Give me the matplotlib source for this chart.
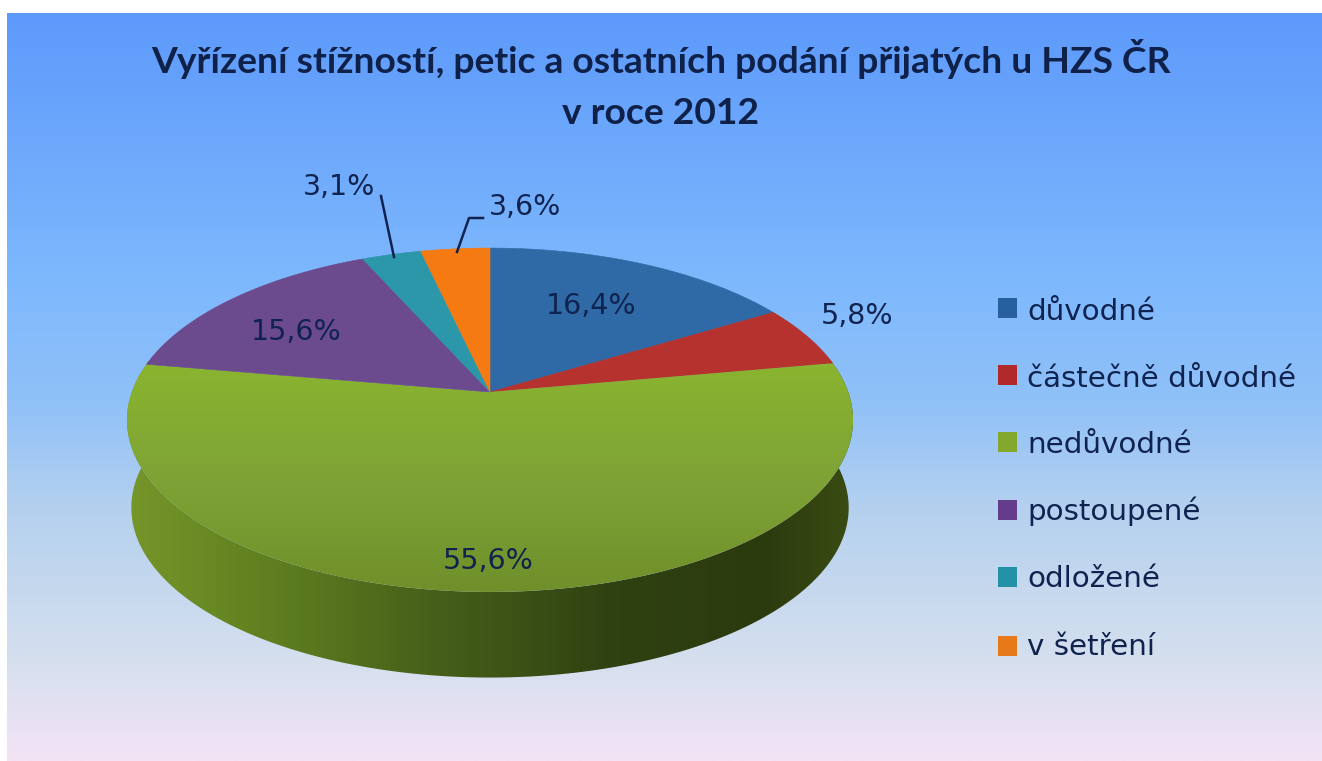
import matplotlib
matplotlib.use('Agg')
import matplotlib.pyplot as plt
import numpy as np
from matplotlib.colors import LinearSegmentedColormap
from matplotlib.patches import Polygon, Rectangle

title_lines = ['Vyřízení stížností, petic a ostatních podání přijatých u HZS ČR', 'v roce 2012']
categories = ['důvodné', 'částečně důvodné', 'nedůvodné', 'postoupené', 'odložené', 'v šetření']
values = [16.4, 5.8, 55.6, 15.6, 3.1, 3.6]
value_labels = ['16,4%', '5,8%', '55,6%', '15,6%', '3,1%', '3,6%']
colors = ['#2f6aa6', '#b5322e', '#85ab33', '#6c4a8e', '#2b97a9', '#f57a12']
legend_colors = ['#27609c', '#b02a2c', '#84a82e', '#633c8c', '#2490a6', '#e8791a']

W, H = 1322, 761
CX, CY = 490, 392      # where the pie centre lands in the picture
K = 0.1628             # perspective of the tilted disc
AX = 358.2
AY = 167.4
TEXT = '#10234f'


def rim(theta, scale=1.0, dy=0.0):
    # theta clockwise from the top of the pie, in radians
    u = np.sin(theta)
    v = -np.cos(theta)
    d = 1 - K * v
    return CX + scale * AX * u / d, CY + dy + scale * AY * v / d


def grad(ax, clip, stops, extent, horizontal=False, z=1):
    cmap = LinearSegmentedColormap.from_list('g', stops)
    g = np.linspace(0, 1, 256)
    g = g.reshape(1, -1) if horizontal else g.reshape(-1, 1)
    im = ax.imshow(g, cmap=cmap, extent=extent, aspect='auto', zorder=z, origin='upper',
                   interpolation='bilinear')
    im.set_clip_path(clip)


fig = plt.figure(figsize=(W / 100, H / 100), dpi=100)
ax = fig.add_axes([0, 0, 1, 1])

# page background
bg = Rectangle((7, 13), W - 7, H - 13, transform=ax.transData, fc='none', ec='none')
ax.add_patch(bg)
grad(ax, bg, [(0, '#5d9afb'), (0.37, '#7fb9fd'), (0.52, '#90c1f8'), (0.66, '#b4d0ef'),
              (0.86, '#d4dfee'), (1, '#f3e3f5')], (7, W, H, 13), z=0)

# side of the pie
t = np.linspace(-np.pi / 2 - 0.2, np.pi / 2 + 0.2, 200) + np.pi
lower = np.column_stack(rim(t, 0.988, 88))
upper = np.column_stack(rim(t[::-1]))
side = Polygon(np.vstack([lower, upper]), closed=True, fc='none', ec='none', transform=ax.transData)
ax.add_patch(side)
grad(ax, side, [(0, '#76962a'), (0.2, '#5f7f20'), (0.42, '#46601a'), (0.68, '#2f4011'),
                (0.88, '#2c3b0e'), (1, '#3a4c12')], (127, 853, 690, 360), horizontal=True, z=2)

# top of the pie
edges = np.cumsum([0] + values) / np.sum(values) * 2 * np.pi
for i, c in enumerate(colors):
    a = np.linspace(edges[i], edges[i + 1], 120)
    x, y = rim(a)
    pts = np.column_stack([np.r_[CX, x], np.r_[CY, y]])
    if categories[i] == 'nedůvodné':
        p = Polygon(pts, closed=True, fc='none', ec='none', transform=ax.transData)
        ax.add_patch(p)
        grad(ax, p, [(0, '#8ab52f'), (0.5, '#7fa336'), (1, '#6f8f2a')], (120, 860, 595, 360), z=3)
    else:
        ax.add_patch(Polygon(pts, closed=True, fc=c, ec=c, lw=0.4, zorder=3))

# data labels
label_pos = [(591, 306), (857, 316), (488, 561), (296, 332), (339, 187), (525, 207)]
for s, (x, y) in zip(value_labels, label_pos):
    ax.text(x, y, s, ha='center', va='center', fontsize=20.5, color=TEXT, family='DejaVu Sans', zorder=5)

# leader lines
ax.plot([381, 394], [196, 257], color=TEXT, lw=1.8, zorder=5)
ax.plot([483, 469, 457], [218, 218, 252], color=TEXT, lw=1.8, zorder=5)

# title
for line, y in zip(title_lines, [73, 124]):
    ax.text(661, y, line, ha='center', va='baseline', fontsize=26.8, fontweight='bold', color='#0f2148',
            family='Lato', zorder=5)

# legend
swatch_y = [308, 375, 442, 510, 577, 646]
text_y = [320, 387, 453, 520, 587, 655]
for name, c, sy, ty in zip(categories, legend_colors, swatch_y, text_y):
    ax.add_patch(Rectangle((998, sy - 10), 19, 20, fc=c, ec='none', zorder=5))
    ax.text(1027, ty, name, ha='left', va='baseline', fontsize=21.2, color=TEXT, family='DejaVu Sans', zorder=5)

ax.set_xlim(0, W)
ax.set_ylim(H, 0)
ax.axis('off')
fig.savefig('out.png', dpi=100, facecolor='white')
